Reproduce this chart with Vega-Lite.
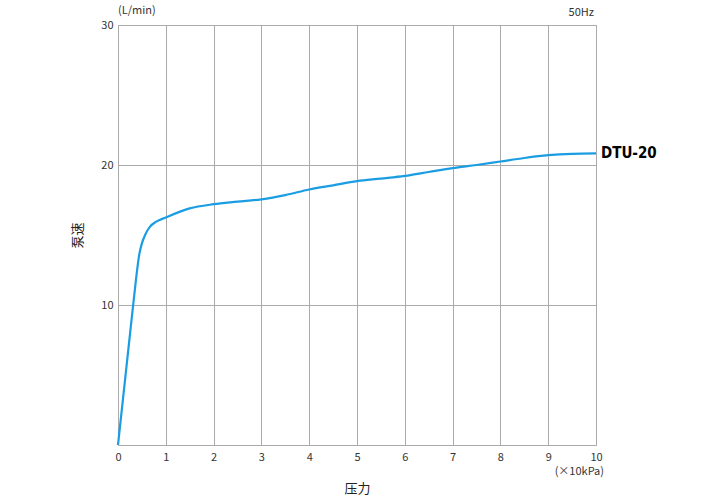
{
  "$schema": "https://vega.github.io/schema/vega-lite/v6.json",
  "width": 478,
  "height": 420,
  "autosize": {"type": "none"},
  "padding": {"left": 118, "top": 25, "right": 124, "bottom": 55},
  "background": "white",
  "config": {
    "view": {"stroke": "#aaaaaa", "strokeWidth": 1},
    "font": "Noto Sans CJK JP",
    "axis": {
      "gridColor": "#aaaaaa",
      "domainColor": "#aaaaaa",
      "ticks": false,
      "labelFlush": false,
      "labelFont": "Noto Sans CJK JP",
      "labelFontSize": 11,
      "labelColor": "#333333",
      "titleFont": "Noto Sans CJK JP",
      "titleFontSize": 13,
      "titleFontWeight": "normal",
      "titleColor": "#222222"
    }
  },
  "datasets": {
    "curve": [
      {"p": 0, "q": 0},
      {"p": 0.32, "q": 10.1},
      {"p": 0.45, "q": 13.7},
      {"p": 0.5, "q": 14.4},
      {"p": 0.58, "q": 15.1},
      {"p": 0.67, "q": 15.6},
      {"p": 0.8, "q": 15.95},
      {"p": 1.0, "q": 16.25},
      {"p": 1.5, "q": 16.9},
      {"p": 2.0, "q": 17.2},
      {"p": 2.5, "q": 17.38},
      {"p": 3.0, "q": 17.55},
      {"p": 3.5, "q": 17.85},
      {"p": 4.0, "q": 18.25},
      {"p": 4.5, "q": 18.55},
      {"p": 5.0, "q": 18.85},
      {"p": 5.5, "q": 19.03},
      {"p": 6.0, "q": 19.22},
      {"p": 6.5, "q": 19.5},
      {"p": 7.0, "q": 19.78},
      {"p": 7.5, "q": 20.0},
      {"p": 8.0, "q": 20.25},
      {"p": 8.5, "q": 20.5},
      {"p": 9.0, "q": 20.7},
      {"p": 9.5, "q": 20.8},
      {"p": 10, "q": 20.83}
    ],
    "labels": [
      {"p": 10, "q": 20.83, "t": "DTU-20"}
    ],
    "notes": [
      {"p": 0, "q": 30, "t": "(L/min)", "kind": "yunit"},
      {"p": 10, "q": 30, "t": "50Hz", "kind": "freq"},
      {"p": 10, "q": 0, "t": "(×10kPa)", "kind": "xunit"}
    ]
  },
  "layer": [
    {
      "data": {"name": "curve"},
      "mark": {"type": "line", "interpolate": "monotone", "color": "#1a9de2", "strokeWidth": 2.2},
      "encoding": {
        "x": {
          "field": "p", "type": "quantitative",
          "scale": {"domain": [0, 10], "nice": false},
          "axis": {"values": [0,1,2,3,4,5,6,7,8,9,10], "labelPadding": 6, "title": "压力", "titlePadding": 20, "grid": true}
        },
        "y": {
          "field": "q", "type": "quantitative",
          "scale": {"domain": [0, 30], "nice": false},
          "axis": {"values": [10, 20, 30], "labelPadding": 5, "title": "泵速", "titlePadding": 16, "grid": true}
        }
      }
    },
    {
      "data": {"name": "labels"},
      "mark": {"type": "text", "align": "left", "baseline": "middle", "dx": 5, "font": "DejaVu Sans Condensed", "fontWeight": "bold", "fontSize": 15, "color": "#000000"},
      "encoding": {
        "x": {"field": "p", "type": "quantitative"},
        "y": {"field": "q", "type": "quantitative"},
        "text": {"field": "t"}
      }
    },
    {
      "data": {"name": "notes"},
      "transform": [{"filter": "datum.kind == 'yunit'"}],
      "mark": {"type": "text", "align": "left", "baseline": "middle", "dx": 0, "dy": -14, "fontSize": 11, "color": "#333333"},
      "encoding": {
        "x": {"field": "p", "type": "quantitative"},
        "y": {"field": "q", "type": "quantitative"},
        "text": {"field": "t"}
      }
    },
    {
      "data": {"name": "notes"},
      "transform": [{"filter": "datum.kind == 'freq'"}],
      "mark": {"type": "text", "align": "right", "baseline": "middle", "dx": -2, "dy": -12, "fontSize": 11, "color": "#333333"},
      "encoding": {
        "x": {"field": "p", "type": "quantitative"},
        "y": {"field": "q", "type": "quantitative"},
        "text": {"field": "t"}
      }
    },
    {
      "data": {"name": "notes"},
      "transform": [{"filter": "datum.kind == 'xunit'"}],
      "mark": {"type": "text", "align": "right", "baseline": "middle", "dx": 8, "dy": 27, "fontSize": 11, "color": "#333333"},
      "encoding": {
        "x": {"field": "p", "type": "quantitative"},
        "y": {"field": "q", "type": "quantitative"},
        "text": {"field": "t"}
      }
    }
  ]
}
